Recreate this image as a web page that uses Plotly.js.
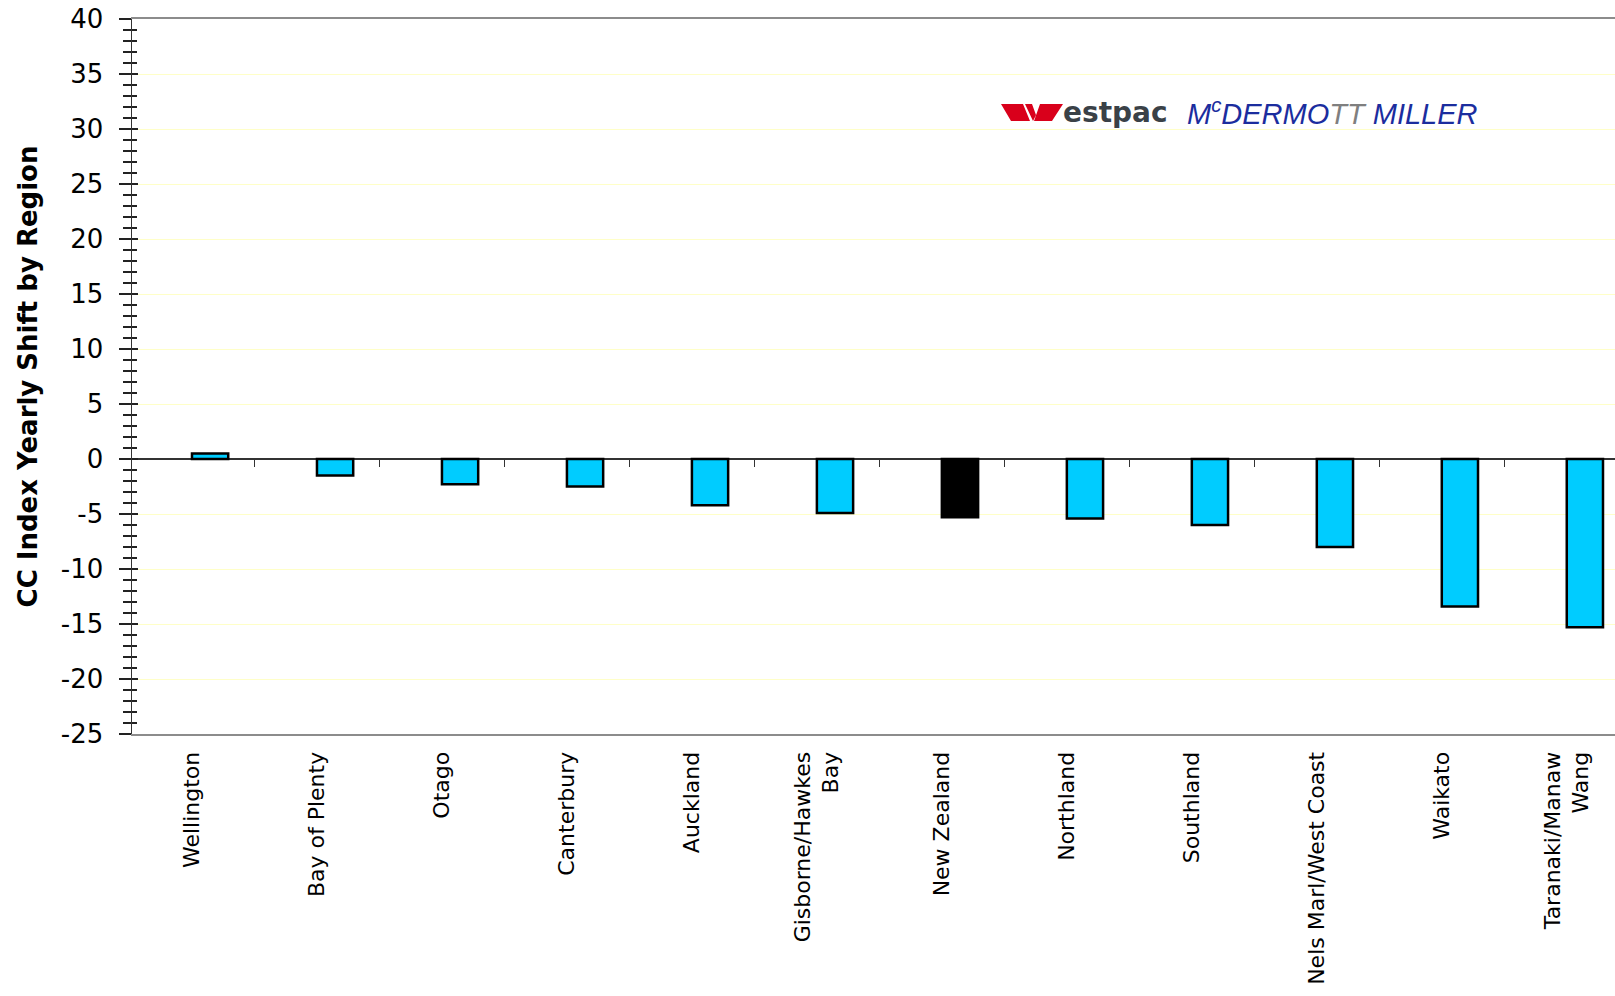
<!DOCTYPE html>
<html>
<head>
<meta charset="utf-8">
<script src="https://cdn.plot.ly/plotly-3.0.1.min.js"></script>
<style>
  html, body { margin: 0; padding: 0; background: #ffffff; }
  #chart { width: 1615px; height: 996px; }
</style>
</head>
<body>
<div id="chart"></div>
<script>
// ---- data ----
const regions = [
  'Wellington', 'Bay of Plenty', 'Otago', 'Canterbury', 'Auckland',
  'Gisborne/Hawkes<br>Bay', 'New Zealand', 'Northland', 'Southland',
  'Nels Marl/West Coast', 'Waikato', 'Taranaki/Manaw<br>Wang'
];
const shiftValues = [0.5, -1.5, -2.3, -2.5, -4.2, -4.9, -5.3, -5.4, -6.0, -8.0, -13.4, -15.3];
const highlightRegion = 'New Zealand';
const yTickVals = [-25, -20, -15, -10, -5, 0, 5, 10, 15, 20, 25, 30, 35, 40];
const yTickText = ['-25', '-20', '-15', '-10', '-5', '0', '5', '10', '15', '20', '25', '30', '35', '40'];
const yTitle = 'CC Index Yearly Shift by Region';

// ---- layout geometry ----
const W = 1615, H = 996;
const ML = 132, MT = 19, MB = 262, MR = 0;
const PW = W - ML - MR, PH = H - MT - MB;
const px2x = p => (p - ML) / PW;
const py2y = p => (H - MB - p) / PH;

const xRange = [-0.48, 11.386];
const yRange = [-25, 40];

const barColors = regions.map(r => r === highlightRegion ? '#000000' : '#00CCFF');

const bars = {
  type: 'bar',
  x: regions,
  y: shiftValues,
  width: 0.29,
  offset: 0,
  marker: { color: barColors, line: { color: '#000000', width: 2.5 } },
  hoverinfo: 'x+y',
  xaxis: 'x', yaxis: 'y'
};

// invisible helper trace so that the overlay axes (crossing ticks) are drawn
const helper = {
  type: 'scatter', mode: 'markers',
  x: regions, y: shiftValues,
  marker: { opacity: 0, size: 1 },
  hoverinfo: 'skip', showlegend: false,
  xaxis: 'x2', yaxis: 'y2'
};

const tickFont = { family: 'DejaVu Sans, Verdana, sans-serif', color: '#000000' };

const layout = {
  width: W, height: H,
  margin: { l: ML, r: MR, t: MT, b: MB, pad: 0 },
  paper_bgcolor: '#ffffff', plot_bgcolor: '#ffffff',
  showlegend: false,
  bargap: 0,
  xaxis: {
    type: 'category',
    range: xRange,
    showgrid: false, zeroline: false,
    showline: true, linecolor: '#8c8c8c', linewidth: 2, mirror: true,
    ticks: '',
    tickangle: -90,
    ticklabelstandoff: 7,
    tickfont: Object.assign({ size: 22 }, tickFont)
  },
  xaxis2: {
    type: 'category',
    overlaying: 'x',
    range: xRange,
    anchor: 'free', position: (0 - yRange[0]) / (yRange[1] - yRange[0]),
    showgrid: false, zeroline: false, showline: false,
    showticklabels: false,
    ticks: 'outside', ticklen: 7, tickwidth: 1.5, tickcolor: '#333333',
    tickson: 'boundaries'
  },
  yaxis: {
    range: yRange,
    tickmode: 'array', tickvals: yTickVals, ticktext: yTickText,
    showgrid: true, gridcolor: '#FFFFC8', gridwidth: 1,
    zeroline: true, zerolinecolor: '#333333', zerolinewidth: 1.5,
    showline: true, linecolor: '#333333', linewidth: 1.5,
    ticks: 'outside', ticklen: 12, tickwidth: 1.5, tickcolor: '#222222',
    minor: { ticks: 'outside', ticklen: 8, tickwidth: 1.5, tickcolor: '#222222', tickmode: 'linear', tick0: 0, dtick: 1, showgrid: false },
    ticklabelstandoff: 10,
    tickfont: Object.assign({ size: 26 }, tickFont),
    title: {
      text: '<b>' + yTitle + '</b>',
      font: { family: 'DejaVu Sans, Verdana, sans-serif', size: 26, color: '#000000' },
      standoff: 15
    }
  },
  yaxis2: {
    overlaying: 'y',
    anchor: 'x', side: 'left',
    range: yRange,
    tick0: 0, dtick: 5,
    showgrid: false, zeroline: false, showline: false,
    showticklabels: false,
    ticks: 'inside', ticklen: 6, tickwidth: 1.5, tickcolor: '#222222',
    minor: { ticks: 'inside', ticklen: 5, tickwidth: 1.5, tickcolor: '#222222', dtick: 1, showgrid: false }
  },
  shapes: [
    // Westpac red "W" mark
    {
      type: 'path', xref: 'paper', yref: 'paper', layer: 'above',
      path: 'M ' + px2x(1001) + ',' + py2y(104) + ' L ' + px2x(1023) + ',' + py2y(104) +
            ' L ' + px2x(1030) + ',' + py2y(121) + ' L ' + px2x(1011) + ',' + py2y(121) + ' Z' +
            ' M ' + px2x(1025) + ',' + py2y(104) + ' L ' + px2x(1032) + ',' + py2y(104) +
            ' L ' + px2x(1036) + ',' + py2y(115) + ' L ' + px2x(1033) + ',' + py2y(121) + ' Z' +
            ' M ' + px2x(1040) + ',' + py2y(104) + ' L ' + px2x(1063) + ',' + py2y(104) +
            ' L ' + px2x(1052) + ',' + py2y(121) + ' L ' + px2x(1034) + ',' + py2y(121) + ' Z',
      fillcolor: '#D9001B', line: { width: 0 }
    }
  ],
  annotations: [
    {
      xref: 'paper', yref: 'paper', x: px2x(1061), y: py2y(113),
      xanchor: 'left', yanchor: 'middle', showarrow: false,
      text: '<b>estpac</b>',
      font: { family: 'DejaVu Sans, Verdana, sans-serif', size: 28, color: '#3A4147' }
    },
    {
      xref: 'paper', yref: 'paper', x: px2x(1185), y: py2y(112),
      xanchor: 'left', yanchor: 'middle', showarrow: false,
      text: '<i>M<sup>c</sup>DERMO<span style="color:#7f7f7f">TT</span> MILLER</i>',
      font: { family: 'Liberation Sans, Arial, sans-serif', size: 29, color: '#1B2D9E' }
    }
  ]
};

Plotly.newPlot('chart', [bars, helper], layout, { displayModeBar: false, staticPlot: true });
</script>
</body>
</html>
